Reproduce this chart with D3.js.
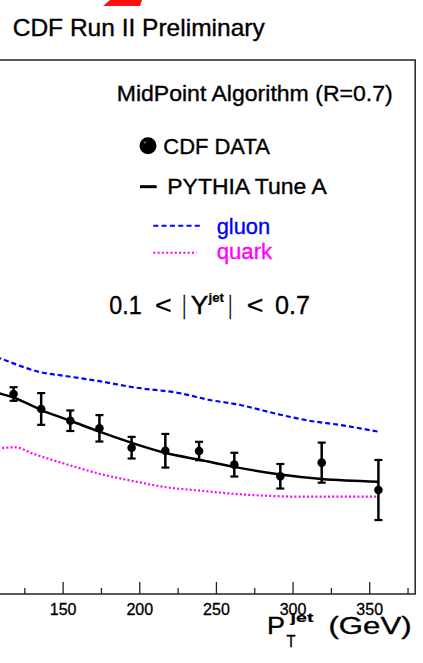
<!DOCTYPE html>
<html>
<head>
<meta charset="utf-8">
<script src="https://cdn.jsdelivr.net/npm/d3@7"></script>
<style>
  html, body { margin: 0; padding: 0; background: #fff; }
  svg { display: block; }
  text { font-family: "Liberation Sans", Arial, sans-serif; }
</style>
</head>
<body>
<svg id="chart" width="423" height="663"></svg>
<script>
// ---- data ----
const ptData  = [118, 136, 155, 174, 195, 217, 239, 262, 292, 319, 356];
const dataVal = [0.1498, 0.1386, 0.1298, 0.1241, 0.1096, 0.1073, 0.1071, 0.0969, 0.0882, 0.0984, 0.0779];
const dataErr = [0.0051, 0.0119, 0.0077, 0.0099, 0.0081, 0.0126, 0.0069, 0.0089, 0.0092, 0.0150, 0.0225];

const pythiaPt  = [97, 109, 118, 136, 155, 174, 196, 218, 240, 261, 292, 319, 356];
const pythiaVal = [0.1559, 0.1503, 0.1472, 0.1378, 0.1298, 0.1216, 0.1129, 0.1054, 0.1004, 0.0954, 0.0895, 0.0861, 0.0841];

const gluonPt  = [97, 109, 135, 153, 174, 197, 227, 246, 266, 275, 292, 311, 331, 356];
const gluonVal = [0.1815, 0.1766, 0.1663, 0.1631, 0.1594, 0.1547, 0.1503, 0.1453, 0.1416, 0.1391, 0.1343, 0.1298, 0.1266, 0.1216];

const quarkPt  = [97, 109, 119, 131, 153, 174, 196, 218, 240, 261, 283, 305, 326, 356];
const quarkVal = [0.1070, 0.1091, 0.1099, 0.1050, 0.0970, 0.0901, 0.0846, 0.0799, 0.0774, 0.0751, 0.0736, 0.0729, 0.0729, 0.0729];

const majorTicks = [100, 150, 200, 250, 300, 350];
const minorTicks = [75, 125, 175, 225, 275, 325, 375];

// ---- layout ----
const svg = d3.select("#chart");
const xDomain = [0, 380], yDomain = [0, 0.4];
const x = d3.scaleLinear().domain(xDomain).range([-167.3, 415.2]);
const y = d3.scaleLinear().domain(yDomain).range([594, 60]);

function txt(g, xp, yp, size, s, opts = {}) {
  const t = g.append("text").attr("x", xp).attr("y", yp).attr("font-size", size)
    .attr("fill", opts.fill || "#000").attr("stroke", opts.fill || "#000")
    .attr("stroke-width", opts.sw != null ? opts.sw : 0.35).text(s);
  if (opts.bold) t.attr("font-weight", "bold");
  if (opts.len) t.attr("textLength", opts.len).attr("lengthAdjust", opts.adj || "spacingAndGlyphs");
  return t;
}

// red logo fragment
svg.append("polygon")
  .attr("points", "110,0 142,0 140,6 103,6")
  .attr("fill", "#ff1010");

// title
txt(svg, 12.7, 36, 24, "CDF Run II Preliminary", { len: 252 });

// frame
svg.append("rect")
  .attr("x", x(xDomain[0])).attr("y", y(yDomain[1]))
  .attr("width", x(xDomain[1]) - x(xDomain[0]))
  .attr("height", y(yDomain[0]) - y(yDomain[1]))
  .attr("fill", "none").attr("stroke", "#222").attr("stroke-width", 1.5);

// x axis
const gx = svg.append("g").attr("transform", `translate(0,${y(0)})`);
gx.call(d3.axisBottom(x).tickValues(majorTicks).tickSizeInner(-12).tickSizeOuter(0)
  .tickPadding(9.5).tickFormat(d3.format("d")));
gx.select(".domain").remove();
gx.selectAll(".tick line").attr("stroke", "#222").attr("stroke-width", 1.3);
gx.selectAll(".tick text").attr("font-size", 16).attr("fill", "#000")
  .attr("stroke", "#000").attr("stroke-width", 0.3)
  .attr("font-family", "'Liberation Sans', Arial, sans-serif");
const gxm = svg.append("g").attr("transform", `translate(0,${y(0)})`);
gxm.call(d3.axisBottom(x).tickValues(minorTicks).tickSizeInner(-6).tickSizeOuter(0).tickFormat(""));
gxm.select(".domain").remove();
gxm.selectAll(".tick line").attr("stroke", "#222").attr("stroke-width", 1.3);

// x axis label
const xl = svg.append("g");
txt(xl, 267, 634, 23, "P", { len: 18 });
txt(xl, 286.5, 646.5, 17, "T", { len: 9 });
txt(xl, 290.5, 621.5, 13, "jet", { bold: true, len: 23, sw: 0.2 });
txt(xl, 328.5, 634, 23, "(GeV)", { len: 83 });

// curves
const line = d3.line().x(d => x(d[0])).y(d => y(d[1])).curve(d3.curveMonotoneX);
const zip = (a, b) => a.map((v, i) => [v, b[i]]);

svg.append("path").datum(zip(gluonPt, gluonVal)).attr("d", line)
  .attr("fill", "none").attr("stroke", "#0000ff").attr("stroke-width", 2.2)
  .attr("stroke-dasharray", "5,3");
svg.append("path").datum(zip(quarkPt, quarkVal)).attr("d", line)
  .attr("fill", "none").attr("stroke", "#ff00ff").attr("stroke-width", 2.2)
  .attr("stroke-dasharray", "2,2.2");
svg.append("path").datum(zip(pythiaPt, pythiaVal)).attr("d", line)
  .attr("fill", "none").attr("stroke", "#000").attr("stroke-width", 2.5);

// data with error bars
const pts = ptData.map((p, i) => ({ p, v: dataVal[i], e: dataErr[i] }));
const gd = svg.append("g");
gd.selectAll("line.err").data(pts).join("line").attr("class", "err")
  .attr("x1", d => x(d.p)).attr("x2", d => x(d.p))
  .attr("y1", d => y(d.v + d.e)).attr("y2", d => y(d.v - d.e))
  .attr("stroke", "#000").attr("stroke-width", 2.5);
gd.selectAll("line.capt").data(pts).join("line").attr("class", "capt")
  .attr("x1", d => x(d.p) - 4).attr("x2", d => x(d.p) + 4)
  .attr("y1", d => y(d.v + d.e)).attr("y2", d => y(d.v + d.e))
  .attr("stroke", "#000").attr("stroke-width", 2.2);
gd.selectAll("line.capb").data(pts).join("line").attr("class", "capb")
  .attr("x1", d => x(d.p) - 4).attr("x2", d => x(d.p) + 4)
  .attr("y1", d => y(d.v - d.e)).attr("y2", d => y(d.v - d.e))
  .attr("stroke", "#000").attr("stroke-width", 2.2);
gd.selectAll("circle").data(pts).join("circle")
  .attr("cx", d => x(d.p)).attr("cy", d => y(d.v)).attr("r", 4.3).attr("fill", "#000");

// legend / annotations
txt(svg, 116.7, 100.7, 22, "MidPoint Algorithm (R=0.7)", { len: 276 });

svg.append("circle").attr("cx", 148).attr("cy", 145.7).attr("r", 8.5).attr("fill", "#000");
svg.append("circle").attr("cx", 145).attr("cy", 142.5).attr("r", 1.3).attr("fill", "#555");
txt(svg, 163.3, 153.5, 22, "CDF DATA", { len: 106.5 });

svg.append("line").attr("x1", 140).attr("x2", 156.7).attr("y1", 186.7).attr("y2", 186.7)
  .attr("stroke", "#000").attr("stroke-width", 3);
txt(svg, 167.3, 194, 22, "PYTHIA Tune A", { len: 159.4 });

svg.append("line").attr("x1", 153.3).attr("x2", 200).attr("y1", 225.7).attr("y2", 225.7)
  .attr("stroke", "#0000ff").attr("stroke-width", 2).attr("stroke-dasharray", "5,3.3");
txt(svg, 216.7, 234, 22, "gluon", { fill: "#0000ff", len: 53.5 });

svg.append("line").attr("x1", 153.3).attr("x2", 196.7).attr("y1", 252.7).attr("y2", 252.7)
  .attr("stroke", "#ff00ff").attr("stroke-width", 2).attr("stroke-dasharray", "2,2.3");
txt(svg, 216.7, 259, 22, "quark", { fill: "#ff00ff", len: 55.5 });

// rapidity range annotation
const ry = svg.append("g");
txt(ry, 109.3, 314.3, 25, "0.1", { len: 32.4 });
txt(ry, 155, 314.3, 25, "<", { len: 16.7 });
txt(ry, 182.5, 314.3, 25, "|", { len: 3.5 });
txt(ry, 190.7, 314.3, 25, "Y", { len: 17.6 });
txt(ry, 208.5, 302, 13, "jet", { bold: true, len: 15.5, sw: 0.2 });
txt(ry, 228.5, 314.3, 25, "|", { len: 3.5 });
txt(ry, 246.7, 314.3, 25, "<", { len: 16.7 });
txt(ry, 275, 314.3, 25, "0.7", { len: 35 });
</script>
</body>
</html>
